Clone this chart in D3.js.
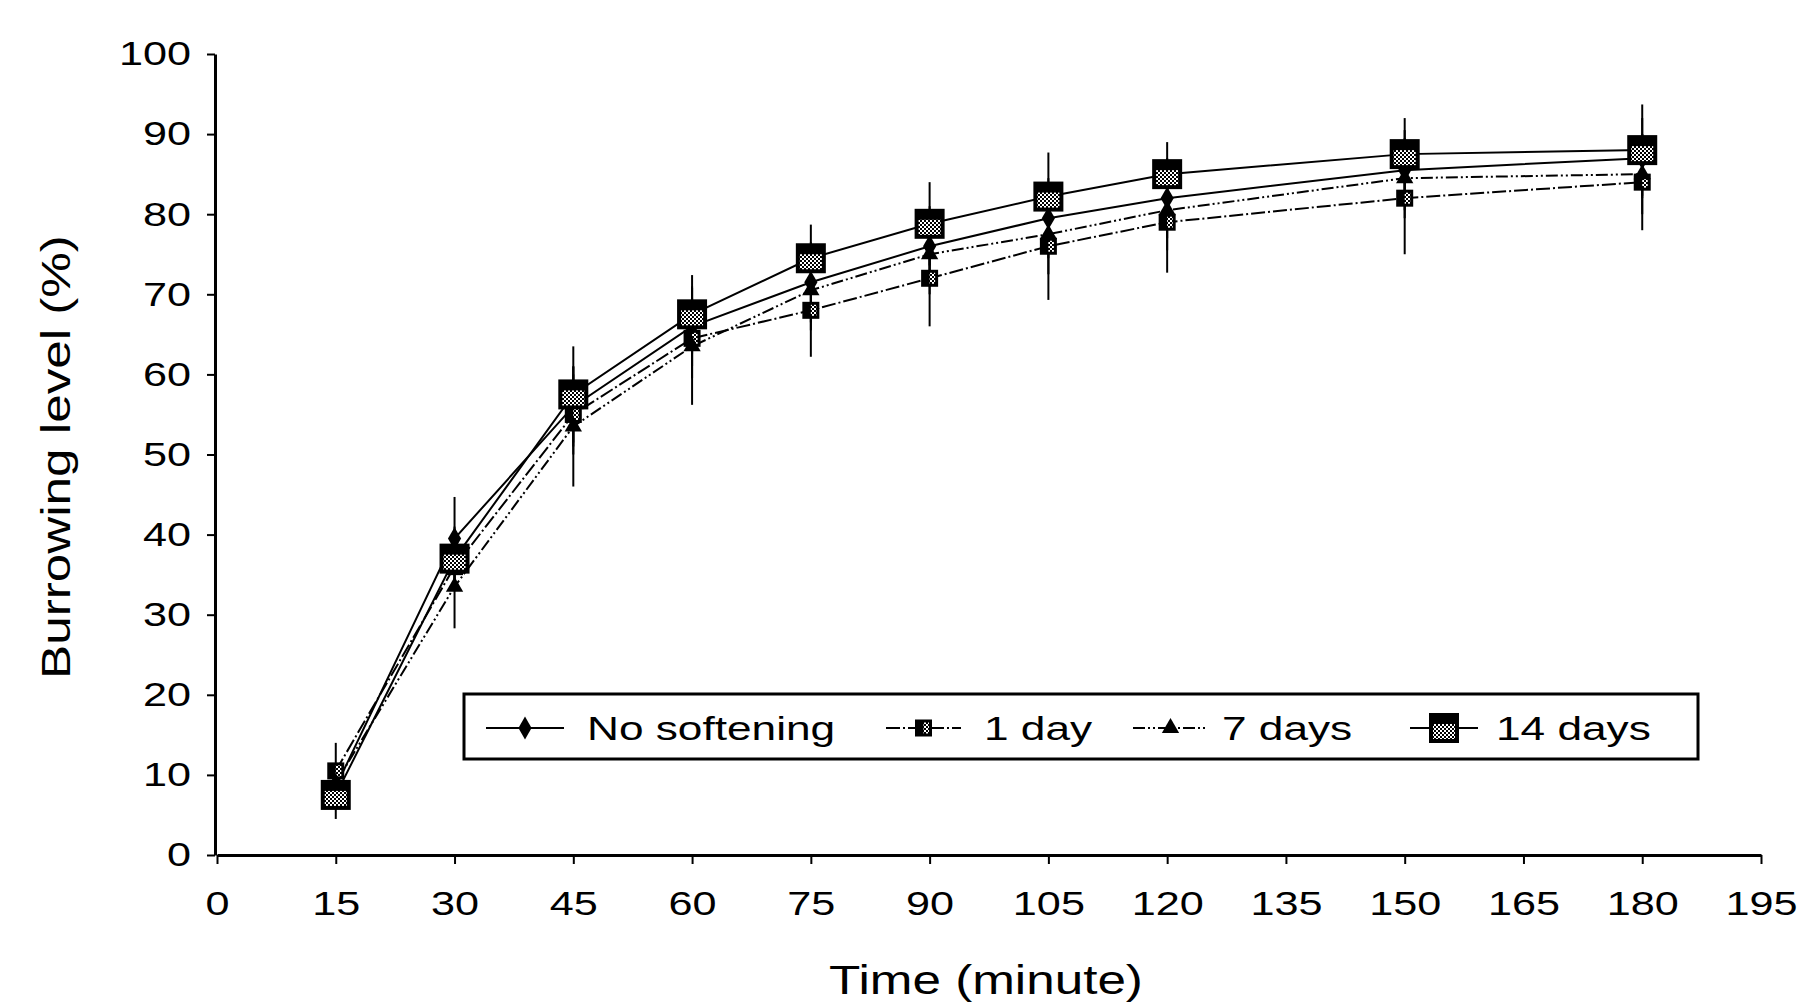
<!DOCTYPE html>
<html>
<head>
<meta charset="utf-8">
<script src="https://cdn.jsdelivr.net/npm/d3@7"></script>
<style>
  body { margin: 0; background: #fff; }
  text { font-family: "Liberation Sans", Arial, sans-serif; fill: #000; }
</style>
</head>
<body>
<div id="canvas"></div>
<script>
// size of the page
var w = 1804;
var h = 1007;

// data
const times = [15, 30, 45, 60, 75, 90, 105, 120, 150, 180];
const noSoftening = [8.5, 39.5, 56, 66, 71.5, 76, 79.5, 82, 85.5, 87];
const oneDay = [10.5, 36, 55, 64.5, 68, 72, 76, 79, 82, 84];
const sevenDays = [9, 33.5, 53.5, 63.5, 70.5, 75, 77.5, 80.5, 84.5, 85];
const fourteenDays = [7.5, 37, 57.5, 67.5, 74.5, 78.8, 82.2, 85, 87.5, 88];
// error (sd) per point
const noSofteningErr = [2, 5.2, 5, 5, 5, 5, 5, 5, 5, 5];
const oneDayErr = [3.5, 3, 5, 5, 5.8, 6, 6.7, 6.3, 7, 6];
const sevenDaysErr = [2, 5.2, 7.5, 7.3, 5, 5, 5, 5, 5, 5];
const fourteenDaysErr = [3, 4, 6, 4.9, 4.2, 5.2, 5.5, 4, 4.5, 5.7];
const seriesNames = ["No softening", "1 day", "7 days", "14 days"];
const xTicks = [0, 15, 30, 45, 60, 75, 90, 105, 120, 135, 150, 165, 180, 195];
const yTicks = [0, 10, 20, 30, 40, 50, 60, 70, 80, 90, 100];

// text is wide in the picture
var stretch = 1.27;

var svg = d3.select("#canvas")
    .append("svg")
    .attr("width", w)
    .attr("height", h)
    .style("background-color", "white");

// checker fill for the squares
var defs = svg.append("defs");
var pat = defs.append("pattern")
    .attr("id", "checker")
    .attr("width", 4).attr("height", 4)
    .attr("patternUnits", "userSpaceOnUse");
pat.append("rect").attr("width", 4).attr("height", 4).attr("fill", "#fff");
pat.append("rect").attr("width", 2).attr("height", 2).attr("fill", "#000");
pat.append("rect").attr("x", 2).attr("y", 2).attr("width", 2).attr("height", 2).attr("fill", "#000");

let x_scale = d3.scaleLinear()
    .domain([0, 195])
    .range([217, 1761]);

let y_scale = d3.scaleLinear()
    .domain([0, 100])
    .range([855, 54]);

// build series table
const series = [
    {name: seriesNames[0], vals: noSoftening, err: noSofteningErr, shape: "diamond", dash: null},
    {name: seriesNames[1], vals: oneDay, err: oneDayErr, shape: "square", dash: "14,3,2,3"},
    {name: seriesNames[2], vals: sevenDays, err: sevenDaysErr, shape: "triangle", dash: "12,3,2,3,2,3"},
    {name: seriesNames[3], vals: fourteenDays, err: fourteenDaysErr, shape: "bigsquare", dash: null}
];

// axes
var xAxis = svg.append("g")
    .attr("transform", "translate(0,855)")
    .call(d3.axisBottom(x_scale).tickValues(xTicks).tickSize(9).tickSizeOuter(0).tickFormat(d3.format("d")));
xAxis.select(".domain").attr("stroke-width", 3);
xAxis.selectAll(".tick line").attr("stroke-width", 2);
xAxis.selectAll(".tick text")
    .attr("y", 36)
    .attr("dy", "0.71em")
    .style("font-size", "34px")
    .attr("transform", `scale(${stretch},1)`)
    .attr("x", 0);

var yAxis = svg.append("g")
    .attr("transform", "translate(215,0)")
    .call(d3.axisLeft(y_scale).tickValues(yTicks).tickSize(8).tickSizeOuter(0));
yAxis.select(".domain").attr("stroke-width", 3);
yAxis.selectAll(".tick line").attr("stroke-width", 2);
yAxis.selectAll(".tick text")
    .attr("x", -24 / stretch)
    .style("font-size", "34px")
    .attr("transform", `scale(${stretch},1)`);

// axis titles
svg.append("text")
    .attr("transform", `translate(986,994) scale(1.28,1)`)
    .attr("text-anchor", "middle")
    .style("font-size", "40px")
    .text("Time (minute)");

svg.append("text")
    .attr("transform", `translate(70,457) rotate(-90) scale(1.28,1)`)
    .attr("text-anchor", "middle")
    .style("font-size", "40px")
    .text("Burrowing level (%)");

// marker drawing
function marker(g, shape, cx, cy) {
    if (shape === "diamond") {
        g.append("path")
            .attr("d", d3.symbol().type(d3.symbolDiamond).size(150)())
            .attr("transform", `translate(${cx},${cy})`)
            .attr("fill", "#000");
    } else if (shape === "square") {
        g.append("rect")
            .attr("x", cx - 7).attr("y", cy - 7)
            .attr("width", 14).attr("height", 14)
            .attr("fill", "url(#checker)")
            .attr("stroke", "#000").attr("stroke-width", 3);
        g.append("rect")
            .attr("x", cx - 7).attr("y", cy - 7)
            .attr("width", 7).attr("height", 14)
            .attr("fill", "#000");
    } else if (shape === "triangle") {
        g.append("path")
            .attr("d", d3.symbol().type(d3.symbolTriangle).size(130)())
            .attr("transform", `translate(${cx},${cy})`)
            .attr("fill", "#000");
    } else {
        g.append("rect")
            .attr("x", cx - 13).attr("y", cy - 13)
            .attr("width", 26).attr("height", 26)
            .attr("fill", "url(#checker)")
            .attr("stroke", "#000").attr("stroke-width", 4);
        g.append("rect")
            .attr("x", cx - 13).attr("y", cy - 13)
            .attr("width", 26).attr("height", 9)
            .attr("fill", "#000");
    }
}

var line = d3.line()
    .x(d => x_scale(d[0]))
    .y(d => y_scale(d[1]));

// error bars first
series.forEach(s => {
    svg.append("g")
        .selectAll("line")
        .data(times.map((t, i) => [t, s.vals[i], s.err[i]]))
        .join("line")
        .attr("x1", d => x_scale(d[0]))
        .attr("x2", d => x_scale(d[0]))
        .attr("y1", d => y_scale(d[1] + d[2]))
        .attr("y2", d => y_scale(d[1] - d[2]))
        .attr("stroke", "#000")
        .attr("stroke-width", 2);
});

// lines
series.forEach(s => {
    svg.append("path")
        .datum(times.map((t, i) => [t, s.vals[i]]))
        .attr("d", line)
        .attr("fill", "none")
        .attr("stroke", "#000")
        .attr("stroke-width", 2)
        .attr("stroke-dasharray", s.dash);
});

// markers
series.forEach(s => {
    var g = svg.append("g");
    times.forEach((t, i) => marker(g, s.shape, x_scale(t), y_scale(s.vals[i])));
});

// legend
var legend = svg.append("g");
legend.append("rect")
    .attr("x", 464).attr("y", 694)
    .attr("width", 1234).attr("height", 65)
    .attr("fill", "#fff")
    .attr("stroke", "#000").attr("stroke-width", 3);

const legendPos = [
    {x1: 486, x2: 564, tx: 587},
    {x1: 886, x2: 961, tx: 984},
    {x1: 1133, x2: 1208, tx: 1222},
    {x1: 1410, x2: 1478, tx: 1496}
];
series.forEach((s, i) => {
    var p = legendPos[i];
    legend.append("line")
        .attr("x1", p.x1).attr("x2", p.x2)
        .attr("y1", 728).attr("y2", 728)
        .attr("stroke", "#000").attr("stroke-width", 2)
        .attr("stroke-dasharray", s.dash);
    marker(legend, s.shape, (p.x1 + p.x2) / 2, 728);
    legend.append("text")
        .attr("transform", `translate(${p.tx},740) scale(1.3,1)`)
        .style("font-size", "34px")
        .text(s.name);
});
</script>
</body>
</html>
